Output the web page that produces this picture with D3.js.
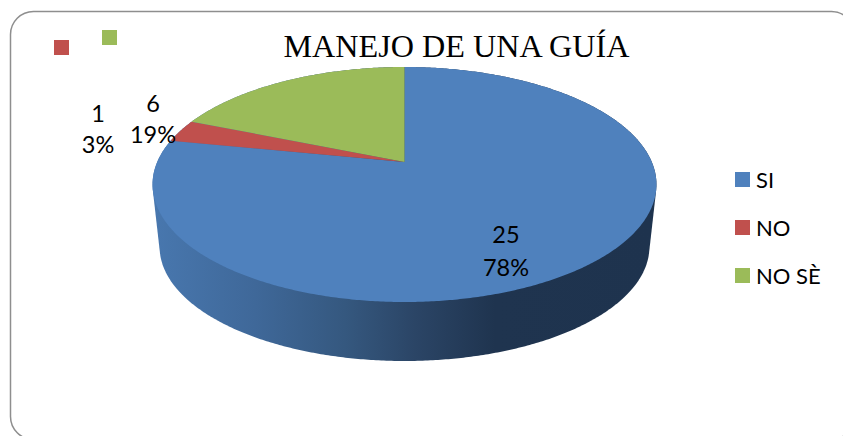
<!DOCTYPE html>
<html>
<head>
<meta charset="utf-8">
<script src="https://cdn.jsdelivr.net/npm/d3@7"></script>
<style>
html,body{margin:0;padding:0;background:#fff;overflow:hidden}
svg{display:block}
</style>
</head>
<body>
<svg id="c" width="843" height="436"></svg>
<script>
const chartTitle = "MANEJO DE UNA GUÍA";
const categories = ["SI", "NO", "NO SÈ"];
const values = [25, 1, 6];
const colors = ["#4F81BD", "#C0504D", "#9BBB59"];

// layout
const W = 843, H = 436;
const cx = 404.5, apexY = 162;
const planX = 247.3, planY = 113.2, persp = 0.1915;
const sideScale = 0.972, sideDrop = 62.9;
const total = d3.sum(values);

const svg = d3.select("#c").attr("viewBox", `0 0 ${W} ${H}`);

// side gradient
const defs = svg.append("defs");
const grad = defs.append("linearGradient").attr("id", "side")
  .attr("gradientUnits", "userSpaceOnUse")
  .attr("x1", 155).attr("x2", 655).attr("y1", 0).attr("y2", 0);
[[0, "#4877AE"], [0.2, "#3F6899"], [0.38, "#35587F"], [0.52, "#2B4566"], [0.68, "#1F344F"], [1, "#1E334E"]]
  .forEach(s => grad.append("stop").attr("offset", s[0]).attr("stop-color", s[1]));

// frame
svg.append("rect").attr("x", 10.5).attr("y", 11.5).attr("width", 844).attr("height", 428)
  .attr("rx", 23).attr("ry", 23).attr("fill", "#fff").attr("stroke", "#8E8E8E").attr("stroke-width", 1.5);

// perspective projection of the round plan of the pie
function topPoint(a) {
  const x = Math.sin(a), y = -Math.cos(a), w = 1 - persp * y;
  return [cx + planX * x / w, apexY + planY * y / w];
}
function bottomPoint(a) {
  const p = topPoint(a);
  return [cx + sideScale * (p[0] - cx), apexY + sideDrop + sideScale * (p[1] - apexY)];
}
const line = d3.line();
const sweep = d => d3.range(d.startAngle, d.endAngle, Math.PI / 360).concat([d.endAngle]);

const pie = d3.pie().sort(null).startAngle(0).endAngle(2 * Math.PI);
const arcs = pie(values);
const color = d3.scaleOrdinal().domain(categories).range(colors);

// side wall: hull of the upper and lower rim of each slice (only the front shows)
svg.append("g").selectAll("path").data(arcs.slice().reverse()).join("path")
  .attr("d", d => {
    const a = sweep(d);
    return line(d3.polygonHull(a.map(topPoint).concat(a.map(bottomPoint)))) + "Z";
  })
  .attr("fill", "url(#side)");

// top face
svg.append("g").selectAll("path").data(arcs).join("path")
  .attr("d", d => line([[cx, apexY]].concat(sweep(d).map(topPoint))) + "Z")
  .attr("fill", (d, i) => color(categories[i]));

// title
svg.append("text").attr("x", 456.5).attr("y", 57).attr("text-anchor", "middle")
  .attr("font-family", "'Liberation Serif'").attr("font-size", 32.2).attr("fill", "#000")
  .text(chartTitle);

// data labels
const labelFont = "Lato";
const labelAnchor = [[506, 243, 276], [98, 122, 153], [153, 112, 143]];
const pct = d3.format(".0%");
const lab = svg.append("g").attr("font-family", labelFont).attr("font-size", 23.5)
  .attr("fill", "#000").attr("text-anchor", "middle");
values.forEach((v, i) => {
  const p = labelAnchor[i];
  lab.append("text").attr("x", p[0]).attr("y", p[1]).text(v);
  lab.append("text").attr("x", p[0]).attr("y", p[2]).text(pct(v / total));
});

// legend
const legY = d3.scalePoint().domain(categories).range([172, 268]);
const leg = svg.append("g").selectAll("g").data(categories).join("g")
  .attr("transform", d => `translate(735,${legY(d)})`);
leg.append("rect").attr("width", 15).attr("height", 15).attr("fill", d => color(d));
leg.append("text").attr("x", 21).attr("y", 16).attr("font-family", labelFont)
  .attr("font-size", 22).attr("fill", "#000").text(d => d);

// stray legend keys at the top left
const strayKeys = [["NO", 54, 40], ["NO SÈ", 102, 30]];
svg.append("g").selectAll("rect").data(strayKeys).join("rect")
  .attr("x", d => d[1]).attr("y", d => d[2]).attr("width", 15).attr("height", 15)
  .attr("fill", d => color(d[0]));
</script>
</body>
</html>
